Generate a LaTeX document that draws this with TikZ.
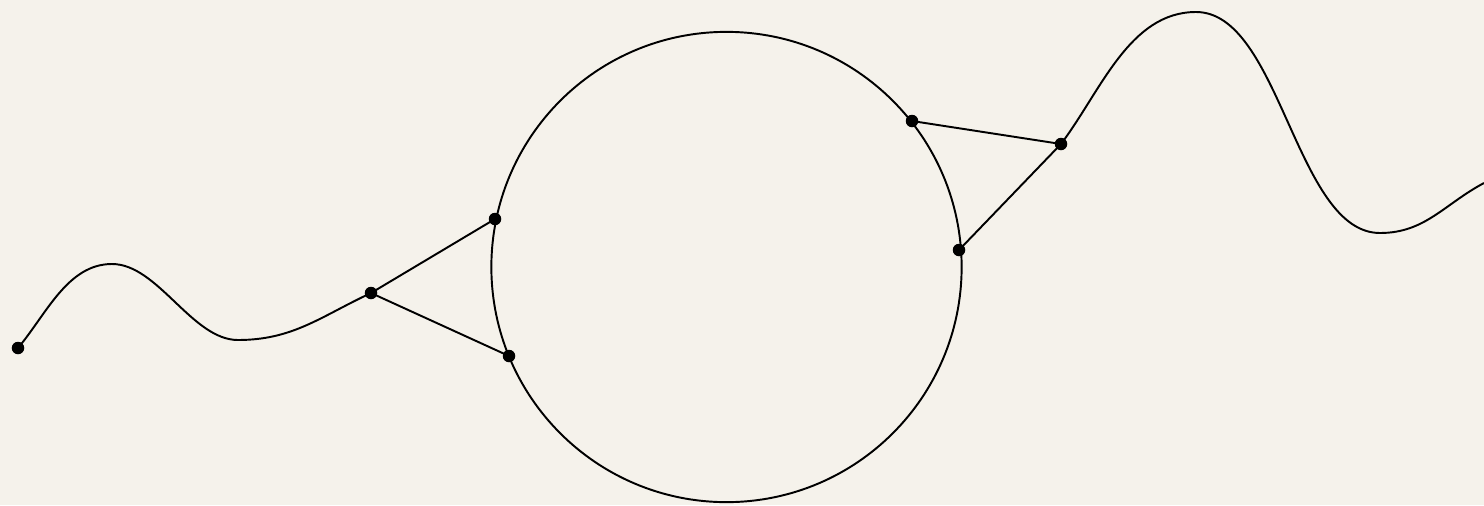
\documentclass[tikz,border=0pt]{standalone}
\definecolor{paper}{HTML}{F5F2EB}
\begin{document}
\begin{tikzpicture}[x=0.01cm,y=0.01cm,
  line/.style={line width=0.55pt, black},
  dot/.style={circle, fill=black, inner sep=0pt, minimum size=0.125cm}]
\fill[paper] (0,0) rectangle (1484,505);
\useasboundingbox (0,0) rectangle (1484,505);
% circle
\node[draw, line width=0.55pt, circle, minimum size=4.7cm, inner sep=0pt] (ring) at (726.5,238) {};
% dots
\node[dot] (s) at (18,157) {};
\node[dot] (l) at (371,212) {};
\node[dot] (a) at (495,286) {};
\node[dot] (b) at (509,149) {};
\node[dot] (c) at (912,384) {};
\node[dot] (d) at (959,255) {};
\node[dot] (r) at (1061,361) {};
\coordinate (e) at (1484,322);
\coordinate (p1) at (112,241);
\coordinate (t1) at (238,165);
\coordinate (p2) at (1196,493);
\coordinate (t2) at (1380,272);
% wavy lines
\draw[line] (s.center) to[out=50,in=180,looseness=0.9] (p1) to[out=0,in=180,looseness=0.8] (t1) to[out=0,in=205] (l.center);
\draw[line] (r.center) to[out=53,in=180,looseness=0.9] (p2) to[out=0,in=180,looseness=0.75] (t2) to[out=0,in=208] (e);
% triangles
\draw[line] (l.center) -- (a.center);
\draw[line] (l.center) -- (b.center);
\draw[line] (r.center) -- (c.center);
\draw[line] (r.center) -- (d.center);
\end{tikzpicture}
\end{document}
